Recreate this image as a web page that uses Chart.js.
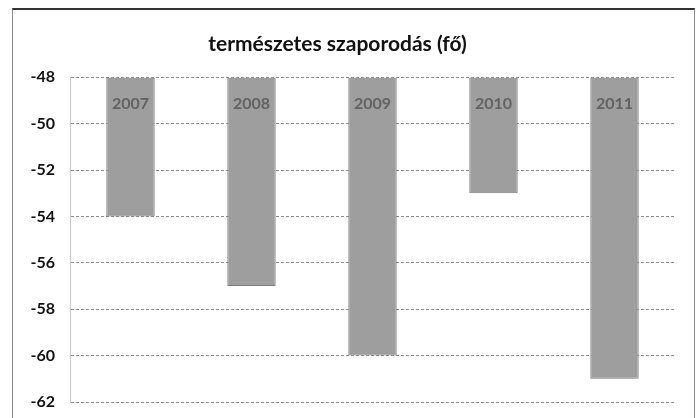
<!DOCTYPE html>
<html>
<head>
<meta charset="utf-8">
<script src="https://cdn.jsdelivr.net/npm/chart.js@4/dist/chart.umd.min.js"></script>
<style>
  html, body { margin: 0; padding: 0; background: #fff; }
  #wrap { position: relative; width: 698px; height: 418px; overflow: hidden; }
  #frame {
    position: absolute; left: 12px; top: 8px; width: 681px; height: 430px;
    border: 1px solid #8a8a8a; border-top: 2px solid #333;
  }
  canvas { position: absolute; left: 0; top: 0; }
</style>
</head>
<body>
<div id="wrap">
  <div id="frame"></div>
  <canvas id="chart" width="698" height="418"></canvas>
</div>
<script>
// természetes szaporodás (fő) by year
let years = ["2007", "2008", "2009", "2010", "2011"];
let growth = [-54, -57, -60, -53, -61];
let axisTop = -48;
let axisBottom = -62;
let tickStep = 2;

// year label written inside the top of each bar
let yearLabels = {
    id: "yearLabels",
    afterDatasetsDraw(chart) {
        let ctx = chart.ctx;
        let meta = chart.getDatasetMeta(0);
        ctx.save();
        ctx.font = "bold 16px Lato";
        ctx.fillStyle = "#626262";
        ctx.textAlign = "center";
        ctx.textBaseline = "middle";
        meta.data.forEach(function (bar, i) {
            ctx.fillText(chart.data.labels[i], bar.x, Math.min(bar.y, bar.base) + 26);
        });
        ctx.restore();
    }
};

let ctx = document.getElementById("chart").getContext("2d");

new Chart(ctx, {
    type: "bar",
    data: {
        labels: years,
        datasets: [{
            label: "természetes szaporodás (fő)",
            data: growth,
            base: axisTop,
            backgroundColor: "#9e9e9e",
            borderColor: "#7c7c7c",
            borderWidth: 1,
            borderSkipped: false,
            barPercentage: 0.4,
            categoryPercentage: 1
        }]
    },
    options: {
        responsive: false,
        animation: false,
        layout: {
            padding: { left: 0, right: 23, top: 0, bottom: 16 }
        },
        plugins: {
            legend: { display: false },
            tooltip: { enabled: false },
            title: {
                display: true,
                text: "természetes szaporodás (fő)",
                color: "#111",
                font: { family: "Lato", size: 21, weight: "bold" },
                padding: { top: 32, bottom: 20 }
            }
        },
        scales: {
            x: {
                display: false
            },
            y: {
                min: axisBottom,
                max: axisTop,
                afterFit(scale) { scale.width = 70; },
                border: { display: true, color: "#c8c8c8", dash: [3, 2] },
                grid: {
                    color: "#8c8c8c",
                    drawTicks: true,
                    tickLength: 15,
                    tickColor: "rgba(0,0,0,0)"
                },
                ticks: {
                    stepSize: tickStep,
                    padding: 0,
                    color: "#111",
                    font: { family: "Lato", size: 16, weight: "bold" }
                }
            }
        }
    },
    plugins: [yearLabels]
});
</script>
</body>
</html>
